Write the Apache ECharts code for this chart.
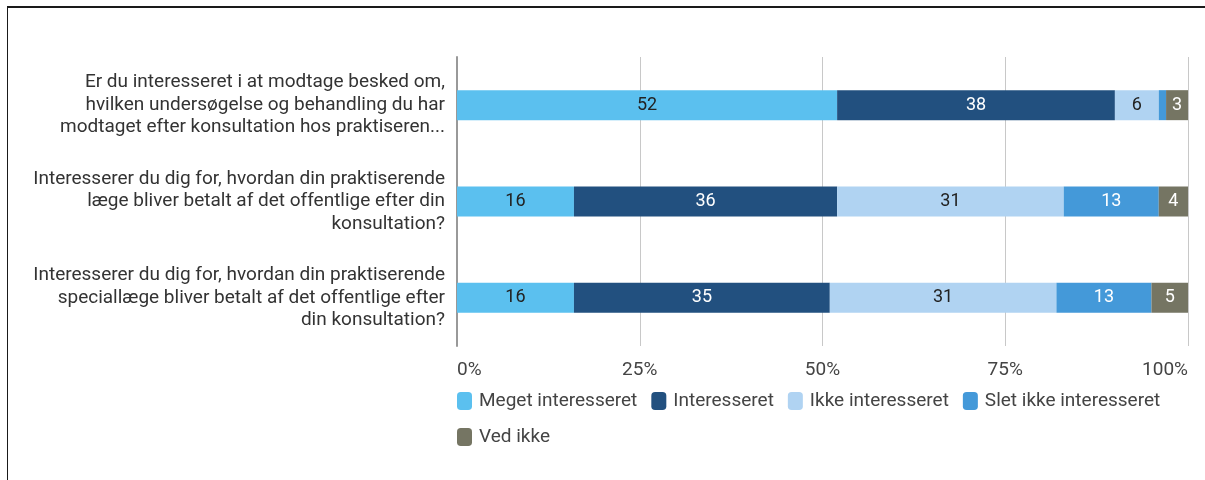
<!DOCTYPE html>
<html>
<head>
<meta charset="utf-8">
<script src="https://cdn.jsdelivr.net/npm/echarts@6/dist/echarts.min.js"></script>
<style>
html,body{margin:0;padding:0;background:#fff;overflow:hidden;}
#frame{position:absolute;left:7px;top:6px;width:1198px;height:474px;border-top:2px solid #1a1a1a;border-left:1.5px solid #1a1a1a;box-sizing:border-box;}
#chart{position:absolute;left:0;top:0;width:1205px;height:480px;}
</style>
</head>
<body>
<div id="frame"></div>
<div id="chart"></div>
<script>
var categories = [
  "Er du interesseret i at modtage besked om,\nhvilken undersøgelse og behandling du har\nmodtaget efter konsultation hos praktiseren...",
  "Interesserer du dig for, hvordan din praktiserende\nlæge bliver betalt af det offentlige efter din\nkonsultation?",
  "Interesserer du dig for, hvordan din praktiserende\nspeciallæge bliver betalt af det offentlige efter\ndin konsultation?"
];
var seriesNames = ["Meget interesseret", "Interesseret", "Ikke interesseret", "Slet ikke interesseret", "Ved ikke"];
var meget = [52, 16, 16];
var interesseret = [38, 36, 35];
var ikke = [6, 31, 31];
var slet = [1, 13, 13];
var vedIkke = [3, 4, 5];
var xTicks = ["0%", "25%", "50%", "75%", "100%"];

var colors = ["#5bc0ef", "#22507f", "#b0d3f2", "#4499d9", "#757563"];
var labelColors = ["#222", "#fff", "#222", "#fff", "#fff"];
var allData = [meget, interesseret, ikke, slet, vedIkke];

var chart = echarts.init(document.getElementById('chart'));
var series = seriesNames.map(function (name, i) {
  return {
    name: name,
    type: 'bar',
    stack: 'total',
    barWidth: 30,
    data: allData[i],
    itemStyle: { color: colors[i] },
    label: {
      show: true,
      position: 'inside',
      color: labelColors[i],
      fontSize: 18,
      fontFamily: 'Roboto',
      formatter: function (p) { return p.value >= 2 ? String(p.value) : ''; }
    }
  };
});

chart.setOption({
  animation: false,
  textStyle: { fontFamily: 'Roboto' },
  grid: { left: 457, right: 17, top: 57, bottom: 134, containLabel: false, outerBoundsMode: 'none' },
  xAxis: {
    type: 'value',
    min: 0, max: 100, interval: 25,
    axisLabel: {
      color: '#444', fontSize: 19, margin: 15,
      alignMinLabel: 'left', alignMaxLabel: 'right',
      formatter: function (v) { return xTicks[Math.round(v / 25)]; }
    },
    splitLine: { show: true, lineStyle: { color: '#c8c8c8', width: 1 } },
    axisLine: { show: false },
    axisTick: { show: false }
  },
  yAxis: {
    type: 'category',
    inverse: true,
    data: categories,
    axisLine: { show: true, lineStyle: { color: '#999', width: 2 } },
    axisTick: { show: false },
    axisLabel: { color: '#333', fontSize: 19, lineHeight: 22.5, margin: 12, align: 'right' }
  },
  legend: {
    left: 452, top: 385, width: 740,
    itemWidth: 15, itemHeight: 18, itemGap: 14,
    icon: 'roundRect',
    textStyle: { color: '#444', fontSize: 19, lineHeight: 22, padding: [0, 0, 0, 2] },
    data: seriesNames
  },
  series: series
});
</script>
</body>
</html>
